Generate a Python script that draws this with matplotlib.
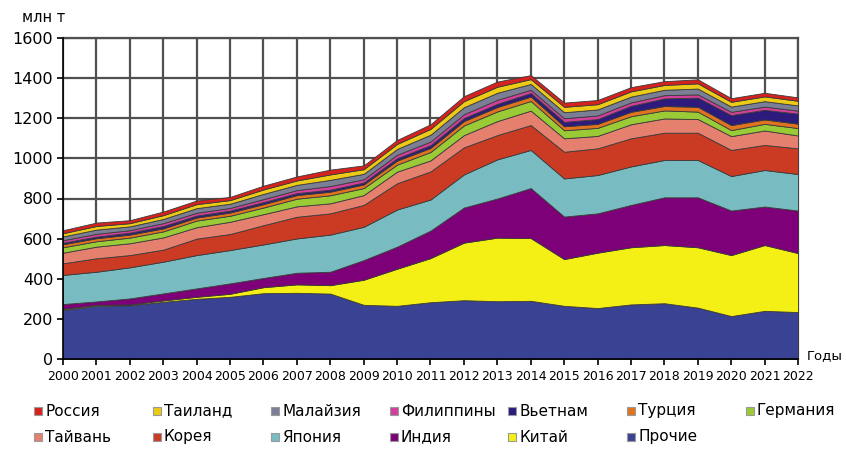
import matplotlib

matplotlib.use("Agg")
import matplotlib.pyplot as plt
from matplotlib.patches import Rectangle

plt.rcParams["font.family"] = ["DejaVu Sans"]

years = list(range(2000, 2023))

# layers bottom -> top, млн т
prochie = [245, 265, 268, 285, 300, 310, 328, 330, 326, 270, 265, 283, 293, 288, 290, 265, 254, 272, 278, 256, 214, 240, 234]
kitai = [5, 5, 4, 7, 10, 15, 30, 42, 42, 125, 185, 220, 287, 317, 313, 233, 276, 285, 290, 301, 304, 328, 294]
india = [24, 17, 30, 35, 42, 52, 46, 58, 67, 98, 110, 137, 175, 195, 249, 212, 196, 211, 238, 249, 222, 192, 212]
japan = [145, 148, 155, 158, 166, 166, 167, 171, 185, 166, 185, 155, 165, 195, 190, 190, 191, 192, 186, 186, 172, 182, 182]
korea = [58, 67, 61, 60, 82, 80, 96, 108, 106, 109, 131, 140, 135, 121, 124, 133, 133, 140, 136, 136, 130, 125, 128]
taiwan = [53, 58, 59, 61, 57, 61, 55, 52, 50, 49, 58, 55, 61, 70, 72, 67, 62, 70, 71, 68, 69, 72, 64]
germany = [27, 27, 28, 30, 33, 30, 33, 38, 40, 35, 35, 42, 48, 48, 48, 40, 40, 40, 40, 37, 30, 33, 37]
turkey = [15, 15, 15, 15, 15, 16, 17, 18, 18, 18, 20, 20, 22, 22, 22, 20, 20, 22, 22, 24, 25, 22, 22]
vietnam = [8, 8, 10, 12, 10, 10, 10, 10, 10, 10, 12, 14, 15, 16, 18, 22, 24, 30, 38, 46, 50, 48, 50]
philippines = [12, 14, 12, 14, 14, 13, 15, 15, 18, 16, 17, 18, 19, 20, 16, 18, 18, 17, 16, 16, 16, 16, 15]
malaysia = [19, 21, 19, 21, 23, 21, 26, 26, 31, 27, 29, 34, 35, 35, 29, 30, 30, 29, 27, 29, 26, 27, 26]
thailand = [16, 18, 16, 19, 20, 18, 22, 22, 27, 23, 25, 29, 30, 30, 24, 27, 26, 26, 24, 26, 24, 24, 23]
russia = [15, 17, 15, 18, 18, 16, 19, 20, 24, 19, 20, 23, 25, 26, 20, 21, 21, 21, 19, 20, 18, 18, 17]

series = [
    ("Прочие", prochie, "#3a4293"),
    ("Китай", kitai, "#f4ef14"),
    ("Индия", india, "#7e0079"),
    ("Япония", japan, "#78bcc1"),
    ("Корея", korea, "#cb3b24"),
    ("Тайвань", taiwan, "#e5806f"),
    ("Германия", germany, "#9acb37"),
    ("Турция", turkey, "#e0741e"),
    ("Вьетнам", vietnam, "#2c1a7c"),
    ("Филиппины", philippines, "#d23f9c"),
    ("Малайзия", malaysia, "#7b7f95"),
    ("Таиланд", thailand, "#eccb16"),
    ("Россия", russia, "#d6221e"),
]

W, H = 846, 449
fig = plt.figure(figsize=(W / 100, H / 100), dpi=100)
ax = fig.add_axes([63 / W, 1 - 359 / H, (798 - 63) / W, (359 - 38) / H])

ax.stackplot(years, *[s[1] for s in series], colors=[s[2] for s in series],
             edgecolor="#3a3a3a", linewidth=0.6, zorder=3)

ax.set_xlim(2000, 2022)
ax.set_ylim(0, 1600)
ax.set_xticks(years)
ax.set_yticks(range(0, 1601, 200))
ax.grid(True, color="#505050", lw=1.6, zorder=0)
ax.set_axisbelow(True)
for side in ("top", "right"):
    ax.spines[side].set_color("#505050")
    ax.spines[side].set_linewidth(1.6)
for side in ("left", "bottom"):
    ax.spines[side].set_color("black")
    ax.spines[side].set_linewidth(1.2)
ax.spines["left"].set_zorder(4)
ax.spines["bottom"].set_zorder(4)
ax.tick_params(axis="both", direction="out", length=4, width=1.2, color="black")
ax.tick_params(axis="x", labelsize=9, pad=4)
ax.tick_params(axis="y", labelsize=11.5, pad=3)

fig.text(22 / W, 1 - 18 / H, "млн т", fontsize=10.5, va="center", ha="left")
fig.text(807 / W, 1 - 356 / H, "Годы", fontsize=9.5, va="center", ha="left")

# legend laid out as a fixed grid, row by row like the original
rows = [
    ["Россия", "Таиланд", "Малайзия", "Филиппины", "Вьетнам", "Турция", "Германия"],
    ["Тайвань", "Корея", "Япония", "Индия", "Китай", "Прочие"],
]
colors = {name: c for name, _, c in series}
for r, names in enumerate(rows):
    yc = 411 + r * 26
    for i, name in enumerate(names):
        x0 = 34 + i * 118.6
        fig.add_artist(Rectangle((x0 / W, 1 - (yc + 4) / H), 8 / W, 8 / H,
                                 transform=fig.transFigure, facecolor=colors[name],
                                 edgecolor="#999999", lw=0.8))
        fig.text((x0 + 11) / W, 1 - yc / H, name, fontsize=11, va="center", ha="left")

fig.savefig("out.png", dpi=100)
